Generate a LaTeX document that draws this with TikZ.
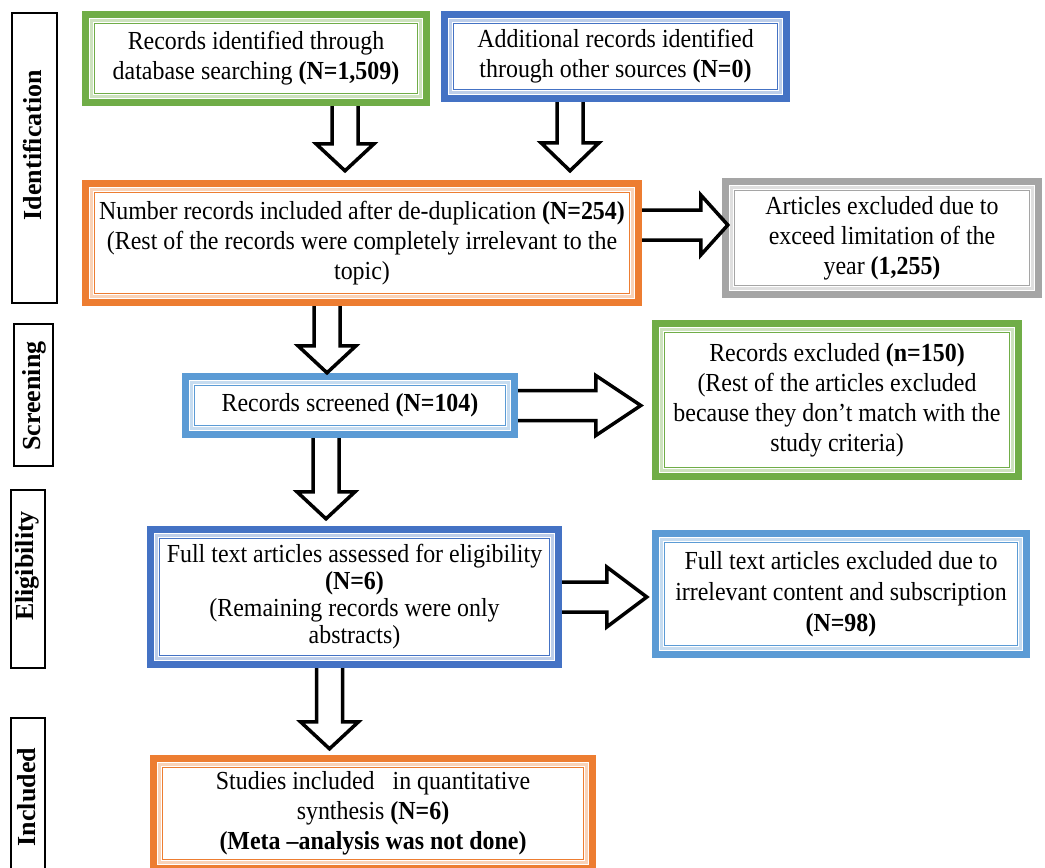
\documentclass[tikz,border=0pt]{standalone}
\usepackage{fontspec}
\setmainfont[FakeStretch=0.92]{Liberation Serif}
\newfontfamily\labelfont{Liberation Serif}
\usetikzlibrary{calc}
\definecolor{cgreen}{HTML}{70AD47}
\definecolor{cblue}{HTML}{4472C4}
\definecolor{corange}{HTML}{ED7D31}
\definecolor{clblue}{HTML}{5B9BD5}
\definecolor{cgrey}{HTML}{A5A5A5}
\tikzset{
  txt/.style={align=center, inner sep=0pt, font=\fontsize{26}{30}\selectfont},
  sidebox/.style={draw=black, line width=2pt, inner sep=0pt, rotate=90},
  sidetxt/.style={rotate=90, inner sep=0pt, font=\labelfont\bfseries\fontsize{26}{30}\selectfont},
  dnarrow/.style={draw=black, line width=3.5pt, fill=white, line join=miter, miter limit=10,
    to path={let \p1=(\tikztostart), \p2=(\tikztotarget) in
      (\x1-13pt,\y1) -- (\x1-13pt,\y2+#1) -- (\x1-29pt,\y2+#1) -- (\x1,\y2)
      -- (\x1+29pt,\y2+#1) -- (\x1+13pt,\y2+#1) -- (\x1+13pt,\y1)}},
  dnarrow/.default=27pt,
  rtarrow/.style={draw=black, line width=3.5pt, fill=white, line join=miter, miter limit=10,
    to path={let \p1=(\tikztostart), \p2=(\tikztotarget) in
      (\x1,\y1+15pt) -- (\x2-#1,\y1+15pt) -- (\x2-#1,\y1+30pt) -- (\x2,\y1)
      -- (\x2-#1,\y1-30pt) -- (\x2-#1,\y1-15pt) -- (\x1,\y1-15pt)}},
  rtarrow/.default=28pt,
}
\begin{document}
\begin{tikzpicture}[x=1pt, y=-1pt]
\useasboundingbox[fill=white] (0,0) rectangle (1045,868);

% side labels
\node[sidebox, minimum width=290pt, minimum height=45pt] (L1) at (34.5,158) {};
\node[sidetxt] (T1) at (32,145) {Identification};
\node[sidebox, minimum width=142pt, minimum height=39pt] (L2) at (33.5,395) {};
\node[sidetxt] (T2) at (34,396) {Screening};
\node[sidebox, minimum width=178pt, minimum height=34pt] (L3) at (28,579) {};
\node[sidetxt] (T3) at (27,566) {Eligibility};
\node[sidebox, minimum width=160pt, minimum height=34pt] (L4) at (28,798) {};
\node[sidetxt] (T4) at (27,797) {Included};

% boxes
\node[txt, minimum width=348pt, minimum height=95pt] (A) at (256,58.5)
  {Records identified through\\database searching \textbf{(N=1,509)}};
\node[txt, minimum width=349pt, minimum height=91pt] (B) at (615.5,56.5)
  {Additional records identified\\through other sources \textbf{(N=0)}};
\node[txt, minimum width=560pt, minimum height=126pt] (C) at (362,243)
  {Number records included after de-duplication \textbf{(N=254)}\\(Rest of the records were completely irrelevant to the\\topic)};
\node[txt, minimum width=320pt, minimum height=120pt] (D) at (882,238)
  {Articles excluded due to\\exceed limitation of the\\year \textbf{(1,255)}};
\node[txt, minimum width=336pt, minimum height=65pt] (E) at (350,405.5)
  {Records screened \textbf{(N=104)}};
\node[txt, minimum width=370pt, minimum height=160pt] (F) at (837,400)
  {Records excluded \textbf{(n=150)}\\(Rest of the articles excluded\\because they don’t match with the\\study criteria)};
\node[txt, minimum width=415pt, minimum height=142pt, font=\fontsize{26}{27}\selectfont] (G) at (354.5,597)
  {Full text articles assessed for eligibility\\\textbf{(N=6)}\\(Remaining records were only\\abstracts)};
\node[txt, minimum width=378pt, minimum height=128pt, font=\fontsize{26}{31}\selectfont] (H) at (841,594)
  {Full text articles excluded due to\\irrelevant content and subscription\\\textbf{(N=98)}};
\node[txt, minimum width=446pt, minimum height=117pt] (I) at (373,813.5)
  {Studies included\ \ \ in quantitative\\synthesis \textbf{(N=6)}\\\textbf{(Meta –analysis was not done)}};

% frames
\foreach \n/\c in {A/cgreen,B/cblue,C/corange,D/cgrey,E/clblue,F/cgreen,G/cblue,H/clblue,I/corange}{
  \draw[\c, line width=7pt] ([shift={(3.5pt,3.5pt)}]\n.south west) rectangle ([shift={(-3.5pt,-3.5pt)}]\n.north east);
  \draw[\c!35, line width=2.5pt] ([shift={(9.75pt,9.75pt)}]\n.south west) rectangle ([shift={(-9.75pt,-9.75pt)}]\n.north east);
  \draw[\c, line width=1.3pt] ([shift={(12.5pt,12.5pt)}]\n.south west) rectangle ([shift={(-12.5pt,-12.5pt)}]\n.north east);
}

% arrows
\draw[dnarrow] ([xshift=89pt]A.south) to ([yshift=9pt]C.north);
\draw[dnarrow=28pt] ([xshift=-45.5pt]B.south) to ([yshift=9pt]C.north);
\draw[dnarrow] ([xshift=-35pt]C.south) to (E.north);
\draw[dnarrow] ([xshift=-24pt]E.south) to ([yshift=7pt]G.north);
\draw[dnarrow] ([xshift=-25pt]G.south) to ([yshift=6pt]I.north);
\draw[rtarrow=27pt] ([yshift=18pt]C.east) to ([xshift=6pt]D.west);
\draw[rtarrow=45pt] (E.east) to ([xshift=-11pt]F.west);
\draw[rtarrow=40pt] (G.east) to ([xshift=-5pt]H.west);
\end{tikzpicture}
\end{document}
